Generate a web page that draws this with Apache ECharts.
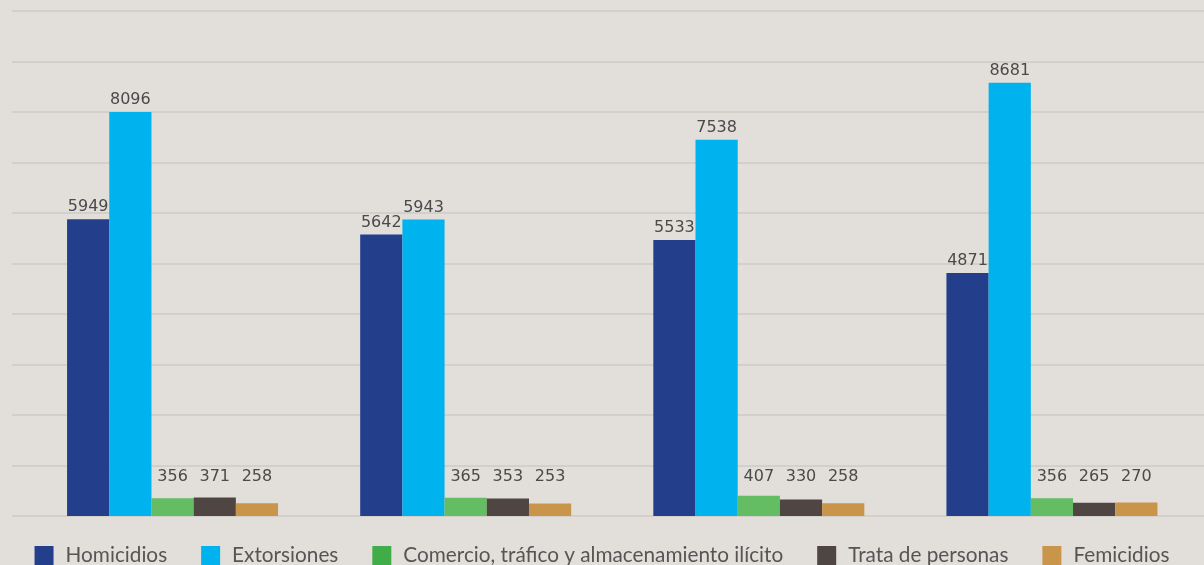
<!DOCTYPE html>
<html>
<head>
<meta charset="utf-8">
<script src="https://cdn.jsdelivr.net/npm/echarts@6/dist/echarts.min.js"></script>
<style>
html,body{margin:0;padding:0;background:#e2dfdb;}
#c{width:1204px;height:565px;}
</style>
</head>
<body>
<div id="c"></div>
<script>
const categories = ['Grupo 1', 'Grupo 2', 'Grupo 3', 'Grupo 4'];
const seriesNames = ['Homicidios', 'Extorsiones', 'Comercio, tráfico y almacenamiento ilícito', 'Trata de personas', 'Femicidios'];
const homicidios = [5949, 5642, 5533, 4871];
const extorsiones = [8096, 5943, 7538, 8681];
const comercio = [356, 365, 407, 356];
const trata = [371, 353, 330, 265];
const femicidios = [258, 253, 258, 270];
const barColors = ['#233f8b', '#00b2ee', '#64bd63', '#4f4543', '#c9954a'];
const legendColors = ['#233f8b', '#00b2ee', '#41ad49', '#4f4543', '#c9954a'];

const values = [homicidios, extorsiones, comercio, trata, femicidios];
const bigLabel = {show: true, position: 'top', distance: 4, color: '#4a4a4a', fontFamily: 'DejaVu Sans', fontSize: 16};
const smallLabel = {show: true, position: 'insideBottom', distance: 0, offset: [0, -31], color: '#4a4a4a', fontFamily: 'DejaVu Sans', fontSize: 16};

const chart = echarts.init(document.getElementById('c'), null, {renderer: 'canvas'});
chart.setOption({
  backgroundColor: '#e2dfdb',
  animation: false,
  grid: [
    {left: 26, right: 5.5, top: 11, bottom: 49},
    {left: 12, right: 0, top: 11, bottom: 49}
  ],
  xAxis: [
    {type: 'category', data: categories, gridIndex: 0, axisLine: {show: false}, axisTick: {show: false}, axisLabel: {show: false}},
    {type: 'value', gridIndex: 1, min: 0, max: 1, show: false}
  ],
  yAxis: [
    {type: 'value', gridIndex: 0, min: 0, max: 10120, axisLabel: {show: false}, axisLine: {show: false}, axisTick: {show: false}, splitLine: {show: false}},
    {type: 'value', gridIndex: 1, min: 0, max: 10000, interval: 1000, axisLabel: {show: false}, axisLine: {show: false}, axisTick: {show: false}, splitLine: {show: true, lineStyle: {color: '#d3cfca', width: 2}}}
  ],
  legend: {
    top: 540,
    left: 'center',
    icon: 'rect',
    itemWidth: 19,
    itemHeight: 19,
    itemGap: 34,
    textStyle: {fontFamily: 'Lato', fontSize: 20.75, color: '#555555', padding: [0, 0, 0, 7]},
    data: seriesNames.map((n, i) => ({name: n, itemStyle: {color: legendColors[i]}}))
  },
  series: seriesNames.map((n, i) => ({
    name: n,
    type: 'bar',
    xAxisIndex: 0,
    yAxisIndex: 0,
    data: values[i],
    barWidth: 42.2,
    barGap: '0%',
    itemStyle: {color: barColors[i]},
    label: i < 2 ? bigLabel : smallLabel
  }))
});
</script>
</body>
</html>
